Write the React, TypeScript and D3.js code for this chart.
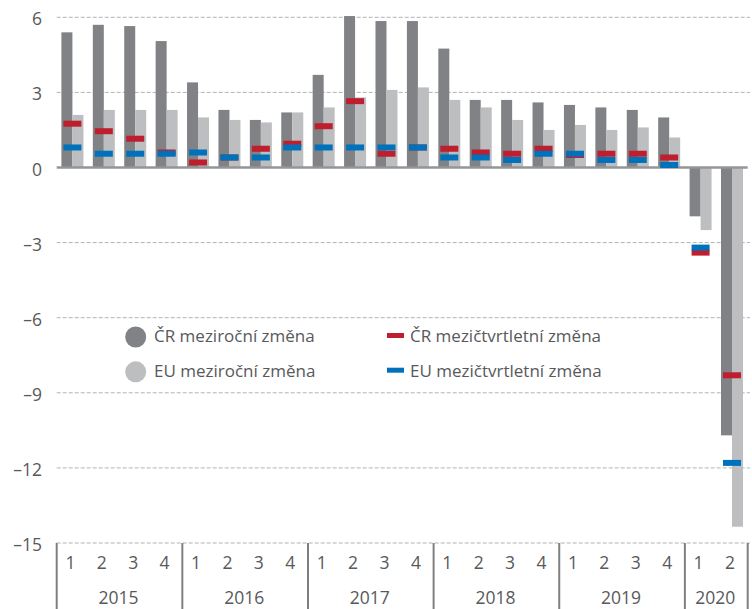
import React from 'react';
import * as d3 from 'd3';

const years = ['2015', '2016', '2017', '2018', '2019', '2020'];
const quarterCounts = [4, 4, 4, 4, 4, 2];
const quarterLabels = ['1', '2', '3', '4', '1', '2', '3', '4', '1', '2', '3', '4', '1', '2', '3', '4', '1', '2', '3', '4', '1', '2'];

// meziroční změna (sloupce)
const crYoY = [5.4, 5.7, 5.65, 5.05, 3.4, 2.3, 1.9, 2.2, 3.7, 6.05, 5.85, 5.85, 4.75, 2.7, 2.7, 2.6, 2.5, 2.4, 2.3, 2.0, -1.95, -10.7];
const euYoY = [2.1, 2.3, 2.3, 2.3, 2.0, 1.9, 1.8, 2.2, 2.4, 2.8, 3.1, 3.2, 2.7, 2.4, 1.9, 1.5, 1.7, 1.5, 1.6, 1.2, -2.5, -14.35];
// mezičtvrtletní změna (značky)
const crQoQ = [1.75, 1.45, 1.15, 0.6, 0.2, 0.4, 0.75, 0.95, 1.65, 2.65, 0.55, 0.8, 0.75, 0.6, 0.55, 0.75, 0.5, 0.55, 0.55, 0.4, -3.4, -8.3];
const euQoQ = [0.8, 0.55, 0.55, 0.55, 0.6, 0.4, 0.4, 0.8, 0.8, 0.8, 0.8, 0.8, 0.4, 0.4, 0.3, 0.55, 0.55, 0.3, 0.3, 0.1, -3.2, -11.8];

const yTicks = [6, 3, 0, -3, -6, -9, -12, -15];

const C_DARK = '#808285';
const C_LIGHT = '#bcbec0';
const C_RED = '#be1e2d';
const C_BLUE = '#0072bc';
const C_TEXT = '#58595b';
const FONT = '"Open Sans", sans-serif';

export default function App() {
  const width = 752;
  const height = 609;
  const left = 56.7;
  const right = 747.7;

  const y = d3.scaleLinear().domain([-15, 6]).range([543, 17.3]);
  const x = d3.scaleBand<number>()
    .domain(d3.range(crYoY.length))
    .range([left, right])
    .padding(0);
  const bw = 11;
  const mw = 18;
  const mh = 6;
  const c = (i: number) => (x(i) as number) + x.bandwidth() / 2;
  const fmt = (v: number) => (v < 0 ? '\u2013' + Math.abs(v) : String(v));

  // year boundaries
  const starts: number[] = [];
  let acc = 0;
  quarterCounts.forEach(n => { starts.push(acc); acc += n; });
  const bounds = starts.map(s => x(s) as number).concat([right]);

  return (
    <svg width={width} height={height} style={{ position: 'absolute', left: 0, top: 0, background: '#fff' }}
      fontFamily={FONT}>
      {/* grid */}
      {yTicks.filter(t => t !== 0).map(t => (
        <line key={t} x1={left} x2={750} y1={y(t)} y2={y(t)} stroke="#b3b3b3" strokeWidth={1} strokeDasharray="4 2" />
      ))}
      {yTicks.map(t => (
        <text key={'l' + t} x={42} y={y(t) + 8} textAnchor="end" fontSize={17.5} fill={C_TEXT}>{fmt(t)}</text>
      ))}

      {/* bars */}
      {crYoY.map((v, i) => (
        <rect key={'d' + i} x={c(i) - bw} width={bw} y={Math.min(y(v), y(0))} height={Math.abs(y(v) - y(0))} fill={C_DARK} />
      ))}
      {euYoY.map((v, i) => (
        <rect key={'e' + i} x={c(i)} width={bw} y={Math.min(y(v), y(0))} height={Math.abs(y(v) - y(0))} fill={C_LIGHT} />
      ))}

      {/* zero line */}
      <line x1={left} x2={right} y1={y(0)} y2={y(0)} stroke="#939598" strokeWidth={2.3} />

      {/* markers */}
      {crQoQ.map((v, i) => (
        <rect key={'r' + i} x={c(i) - mw / 2} width={mw} y={y(v) - mh / 2} height={mh} fill={C_RED} />
      ))}
      {euQoQ.map((v, i) => (
        <rect key={'b' + i} x={c(i) - mw / 2} width={mw} y={y(v) - mh / 2} height={mh} fill={C_BLUE} />
      ))}

      {/* x axis */}
      {quarterLabels.map((q, i) => (
        <text key={'q' + i} x={c(i) - 2} y={569} textAnchor="middle" fontSize={17.5} fill={C_TEXT}>{q}</text>
      ))}
      {bounds.map((b, i) => (
        <line key={'s' + i} x1={b} x2={b} y1={543} y2={609} stroke="#7f7f7f" strokeWidth={2} />
      ))}
      {years.map((yr, i) => (
        <text key={yr} x={(bounds[i] + bounds[i + 1]) / 2 - 1} y={604} textAnchor="middle" fontSize={17.5} fill={C_TEXT}>{yr}</text>
      ))}

      {/* legend */}
      <circle cx={135.7} cy={337} r={10.5} fill={C_DARK} />
      <text x={154} y={342} fontSize={17} fill={C_TEXT}>ČR meziroční změna</text>
      <circle cx={135.7} cy={371.8} r={10.5} fill={C_LIGHT} />
      <text x={154} y={377} fontSize={17} fill={C_TEXT}>EU meziroční změna</text>
      <rect x={387} y={333} width={17} height={5} fill={C_RED} />
      <text x={410} y={342} fontSize={17} fill={C_TEXT}>ČR mezičtvrtletní změna</text>
      <rect x={387} y={367.7} width={17} height={5} fill={C_BLUE} />
      <text x={410} y={377} fontSize={17} fill={C_TEXT}>EU mezičtvrtletní změna</text>
    </svg>
  );
}
